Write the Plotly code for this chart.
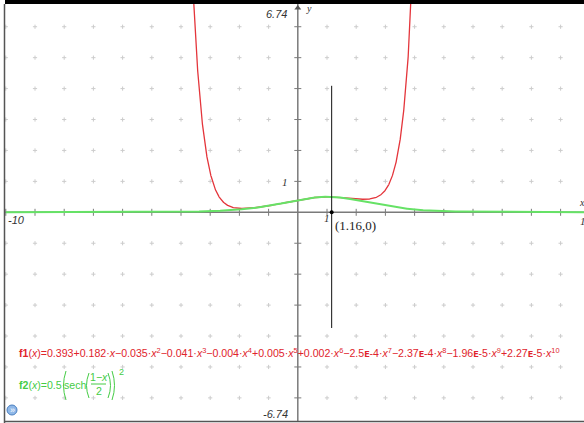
import numpy as np
import plotly.graph_objects as go

# ---- data ----
f1_coeffs = [0.393, 0.182, -0.035, -0.041, -0.004, 0.005, 0.002, -2.5e-4, -2.37e-4, -1.96e-5, 2.27e-5]  # ascending powers
f2_amp = 0.5
f2_shift = 1.0
f2_div = 2.0
point_x = [1.16]
point_y = [0.0]
vline_x = [1.16, 1.16]
vline_y = [4.09, -3.74]
x_window = [-10, 10]
y_window = [-6.74, 6.74]

W, H = 584, 423
L, R, T, B = 5, 0, 4, 2
ux, uy = 29.2, 30.93
X0 = -10 - 0.8 / ux
X1 = X0 + (W - L - R) / ux
YT = 6.735
YB = YT - (H - T - B) / uy


def px(xp, yp):
    return X0 + (xp - L) / ux, YT - (yp - T) / uy


xs = np.linspace(x_window[0], x_window[1], 4001)
f1 = np.polynomial.polynomial.polyval(xs, f1_coeffs)
f2 = f2_amp / np.cosh((f2_shift - xs) / f2_div) ** 2

RED = "#e4353b"
GREEN = "#66e266"
RED_T = "#e0242c"
GREEN_T = "#45cc45"
AX = "#7a7a7a"

fig = go.Figure()

# grid dots
gx, gy = [], []
for i in range(-10, 11):
    for j in range(-7, 8):
        if i == 0 or j == 0:
            continue
        gx.append(i)
        gy.append(j)
fig.add_trace(go.Scatter(x=gx, y=gy, mode="markers", hoverinfo="skip",
                         marker=dict(symbol="cross-thin", size=3, line=dict(color="#cccccc", width=1))))
# axis ticks
tx = [i for i in range(-10, 11) if i != 0]
fig.add_trace(go.Scatter(x=tx, y=[0] * len(tx), mode="markers", hoverinfo="skip",
                         marker=dict(symbol="line-ns", size=5, line=dict(color=AX, width=1))))
ty = [j for j in range(-6, 7) if j != 0]
fig.add_trace(go.Scatter(x=[0] * len(ty), y=ty, mode="markers", hoverinfo="skip",
                         marker=dict(symbol="line-ew", size=5, line=dict(color=AX, width=1))))
# axes
fig.add_trace(go.Scatter(x=[X0, X1], y=[0, 0], mode="lines", line=dict(color=AX, width=1.5), hoverinfo="skip"))
fig.add_trace(go.Scatter(x=[0, 0], y=[YB, YT], mode="lines", line=dict(color=AX, width=1.5), hoverinfo="skip"))
ax_top = px(0, 8)
fig.add_trace(go.Scatter(x=[0], y=[ax_top[1]], mode="markers", hoverinfo="skip", cliponaxis=False,
                         marker=dict(symbol="triangle-up", size=6, color="#555")))

# curves
fig.add_trace(go.Scatter(x=xs, y=f1, mode="lines", line=dict(color=RED, width=1.3), hoverinfo="skip"))
fig.add_trace(go.Scatter(x=xs, y=f2, mode="lines", line=dict(color=GREEN, width=2), hoverinfo="skip"))

# vertical line and point
fig.add_trace(go.Scatter(x=vline_x, y=vline_y, mode="lines", line=dict(color="#111", width=1), hoverinfo="skip"))
fig.add_trace(go.Scatter(x=point_x, y=point_y, mode="markers", marker=dict(color="#000", size=4), hoverinfo="skip"))

fig.update_layout(
    width=W, height=H, margin=dict(l=L, r=R, t=T, b=B),
    paper_bgcolor="white", plot_bgcolor="white", showlegend=False,
    xaxis=dict(range=[X0, X1], visible=False, fixedrange=True),
    yaxis=dict(range=[YB, YT], visible=False, fixedrange=True),
)

# frame
fig.add_shape(type="rect", xref="paper", yref="paper", x0=0, x1=1.01, y0=1, y1=1 + 4 / 417,
              fillcolor="#000", line=dict(width=0), layer="above")
fig.add_shape(type="line", xref="paper", yref="paper", x0=-0.5 / 579, x1=-0.5 / 579, y0=-2 / 417, y1=1,
              line=dict(color="#555", width=1.5), layer="above")
fig.add_shape(type="line", xref="paper", yref="paper", x0=0, x1=1, y0=-0.5 / 417, y1=-0.5 / 417,
              line=dict(color="#555", width=1.5), layer="above")

SER = "Liberation Serif"
SAN = "Liberation Sans"


def ann(text, xp, yp, size=11, color="#333", family=SAN, xanchor="center", yanchor="middle"):
    x, y = px(xp, yp)
    fig.add_annotation(x=x, y=y, text=text, showarrow=False, xanchor=xanchor, yanchor=yanchor,
                       font=dict(size=size, color=color, family=family))


def paren(x_end, x_mid, y_top, y_bot, color):
    a = px(x_end, y_top)
    m = px(x_mid, (y_top + y_bot) / 2)
    b = px(x_end, y_bot)
    fig.add_shape(type="path", path=f"M {a[0]},{a[1]} Q {m[0]},{m[1]} {b[0]},{b[1]}",
                  line=dict(color=color, width=1))


# axis labels
ann("<i>6.74</i>", 289, 14, size=11, family=SAN, xanchor="right")
ann("<i>y</i>", 309, 8, size=10, family=SER)
ann("<i>1</i>", 290, 182, size=11, family=SER, xanchor="right")
ann("<i>-10</i>", 6, 220, size=11, family=SAN, xanchor="left")
ann("<i>1</i>", 327, 218, size=11, family=SER)
ann("<i>x</i>", 582, 202, size=10, family=SER)
ann("<i>10</i>", 578, 221, size=11, family=SER, xanchor="left")
ann("<i>-6.74</i>", 290, 414, size=11, family=SAN, xanchor="right")
ann("(1.16,0)", 333, 225, size=13, family=SER, color="#222", xanchor="left")

# f1 label
xi = "<i>x</i>"
f1_txt = ("<b>f1</b>(" + xi + ")=0.393+0.182·" + xi + "−0.035·" + xi + "<sup>2</sup>−0.041·" + xi +
          "<sup>3</sup>−0.004·" + xi + "<sup>4</sup>+0.005·" + xi + "<sup>5</sup>+0.002·" + xi +
          "<sup>6</sup>−2.5<b>ᴇ</b>-4·" + xi + "<sup>7</sup>−2.37<b>ᴇ</b>-4·" + xi + "<sup>8</sup>−1.96<b>ᴇ</b>-5·" +
          xi + "<sup>9</sup>+2.27<b>ᴇ</b>-5·" + xi + "<sup>10</sup>")
ann(f1_txt, 17, 352, size=10.6, color=RED_T, xanchor="left")

# f2 label
ann("<b>f2</b>(" + xi + ")=0.5·", 17, 385, size=10.6, color=GREEN_T, xanchor="left")
paren(66, 61, 371, 400, GREEN_T)
ann("sech", 75, 385, size=10.6, color=GREEN_T)
paren(89, 84, 373, 398, GREEN_T)
ann("1−" + xi, 98.5, 377, size=10.6, color=GREEN_T)
ann("2", 98.5, 391, size=10.6, color=GREEN_T)
x_a, y_a = px(91, 384)
x_b, _ = px(106, 384)
fig.add_shape(type="line", x0=x_a, x1=x_b, y0=y_a, y1=y_a, line=dict(color=GREEN_T, width=1))
paren(108, 113, 373, 398, GREEN_T)
paren(112, 117, 371, 400, GREEN_T)
ann("2", 121, 372, size=9, color=GREEN_T)

# bottom-left icon
cx, cy = px(12, 410)
rx, ry = 5 / ux, 5 / uy
fig.add_shape(type="circle", x0=cx - rx, x1=cx + rx, y0=cy - ry, y1=cy + ry,
              fillcolor="#8fb8e8", line=dict(color="#4a7fc0", width=1))
ann("»", 12, 409.5, size=9, color="#fff", family=SAN)

fig.write_html("out.html", config={"displayModeBar": False, "staticPlot": True},
               post_script="document.body.style.margin='0';document.body.style.padding='0';"
                           "document.documentElement.style.overflow='hidden';")
